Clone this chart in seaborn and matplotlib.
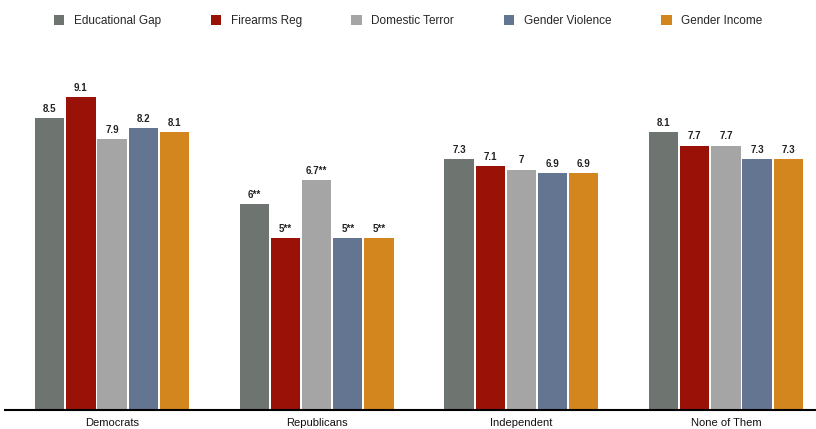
import matplotlib
matplotlib.use("Agg")
import matplotlib.pyplot as plt
import seaborn as sns
import pandas as pd

categories = ["Democrats", "Republicans", "Independent", "None of Them"]
series = ["Educational Gap", "Firearms Reg", "Domestic Terror", "Gender Violence", "Gender Income"]
colors = ["#6E7470", "#9A1108", "#A5A5A5", "#647592", "#D3861D"]

educational_gap = [8.5, 6.0, 7.3, 8.1]
firearms_reg = [9.1, 5.0, 7.1, 7.7]
domestic_terror = [7.9, 6.7, 7.0, 7.7]
gender_violence = [8.2, 5.0, 6.9, 7.3]
gender_income = [8.1, 5.0, 6.9, 7.3]

educational_gap_labels = ["8.5", "6**", "7.3", "8.1"]
firearms_reg_labels = ["9.1", "5**", "7.1", "7.7"]
domestic_terror_labels = ["7.9", "6.7**", "7", "7.7"]
gender_violence_labels = ["8.2", "5**", "6.9", "7.3"]
gender_income_labels = ["8.1", "5**", "6.9", "7.3"]

values = [educational_gap, firearms_reg, domestic_terror, gender_violence, gender_income]
labels = [educational_gap_labels, firearms_reg_labels, domestic_terror_labels,
          gender_violence_labels, gender_income_labels]

rows = []
for s, vals in zip(series, values):
    for c, v in zip(categories, vals):
        rows.append({"category": c, "series": s, "value": v})
df = pd.DataFrame(rows)

sns.set_theme(style="white")
plt.rcParams["font.family"] = ["Liberation Sans", "DejaVu Sans"]

fig = plt.figure(figsize=(8.16, 4.29), dpi=100)
ax = fig.add_axes([5 / 816, 0.0443, 811 / 816, 0.8005])

sns.barplot(data=df, x="category", y="value", hue="series", order=categories,
            hue_order=series, palette=colors, width=0.76, gap=0.06,
            saturation=1, ax=ax, linewidth=0)

for cont, labs in zip(ax.containers, labels):
    ax.bar_label(cont, labels=labs, padding=3, fontsize=7, fontweight="bold",
                 color="#222222")

ax.set_ylim(0, 10)
ax.set_xlim(-0.523, 3.44)
ax.set_xlabel("")
ax.set_ylabel("")
ax.set_yticks([])
for side in ["left", "right", "top"]:
    ax.spines[side].set_visible(False)
ax.spines["bottom"].set_color("black")
ax.spines["bottom"].set_linewidth(1.5)
ax.tick_params(axis="x", length=0, labelsize=8, pad=6, colors="#111111")

handles, leg_labels = ax.get_legend_handles_labels()
ax.legend_.remove()
fig.legend(handles, leg_labels, loc="center", bbox_to_anchor=(0.5, 1 - 21 / 429),
           ncol=5, frameon=False, fontsize=8.5, handlelength=0.9, handleheight=0.9,
           handletextpad=0.8, columnspacing=4.2)

fig.savefig("out.png", dpi=100)
